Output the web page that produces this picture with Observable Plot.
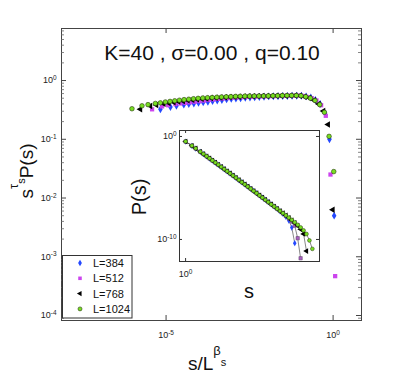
<!DOCTYPE html>
<html><head><meta charset="utf-8">
<script src="https://cdn.jsdelivr.net/npm/d3@7"></script>
<script src="https://cdn.jsdelivr.net/npm/@observablehq/plot@0.6"></script>
<style>
body{margin:0;background:#fff;}
#wrap{position:relative;width:399px;height:374px;font-family:"Liberation Sans",Arial,sans-serif;}
#wrap svg{font-family:"Liberation Sans",Arial,sans-serif;}
#inset{position:absolute;left:120px;top:125px;}
</style></head><body><div id="wrap"><div id="inset"></div></div>
<script>
// ---- data ----
const sizes = [384, 512, 768, 1024];
const tauS = 1.55;   // exponent tau_s
const betaS = 2.0;   // exponent beta_s
// log10 of s-bin centres
const logS = [0, 0.30, 0.48, 0.70, 0.85, 1.00, 1.14, 1.28, 1.42, 1.56, 1.70, 1.84, 1.98, 2.12, 2.26, 2.40, 2.54, 2.68, 2.82, 2.96, 3.10, 3.24, 3.38, 3.52, 3.66, 3.80, 3.94, 4.08, 4.22, 4.36, 4.50, 4.64, 4.78, 4.92, 5.06, 5.20, 5.34, 5.48, 5.62, 5.76, 5.90, 6.04];
// log10 of s^tau P(s) per system size
const logF384 = [-0.49,-0.45,-0.43,-0.41,-0.40,-0.39,-0.38,-0.37,-0.36,-0.35,-0.34,-0.33,-0.32,-0.31,-0.305,-0.30,-0.295,-0.29,-0.285,-0.28,-0.275,-0.27,-0.268,-0.266,-0.264,-0.262,-0.26,-0.258,-0.26,-0.27,-0.29,-0.33,-0.40,-0.55,-1.0,-2.3];
const logF512 = [-0.49,-0.44,-0.42,-0.40,-0.39,-0.38,-0.37,-0.36,-0.35,-0.34,-0.33,-0.32,-0.312,-0.305,-0.298,-0.292,-0.287,-0.283,-0.279,-0.276,-0.273,-0.27,-0.268,-0.266,-0.264,-0.262,-0.26,-0.258,-0.257,-0.256,-0.262,-0.28,-0.30,-0.34,-0.42,-0.6,-1.6,-3.33];
const logF768 = [-0.49,-0.435,-0.415,-0.395,-0.383,-0.37,-0.358,-0.347,-0.337,-0.327,-0.319,-0.311,-0.304,-0.298,-0.293,-0.289,-0.285,-0.281,-0.278,-0.275,-0.272,-0.269,-0.267,-0.265,-0.263,-0.262,-0.261,-0.26,-0.259,-0.258,-0.257,-0.256,-0.258,-0.275,-0.295,-0.335,-0.40,-0.52,-0.75,-2.2];
const logF1024 = [-0.48,-0.43,-0.41,-0.39,-0.38,-0.365,-0.355,-0.345,-0.335,-0.325,-0.318,-0.31,-0.303,-0.297,-0.292,-0.288,-0.284,-0.28,-0.277,-0.274,-0.27,-0.268,-0.266,-0.265,-0.264,-0.263,-0.262,-0.261,-0.26,-0.258,-0.256,-0.255,-0.254,-0.254,-0.258,-0.275,-0.30,-0.34,-0.41,-0.54,-0.95,-1.55];
const seriesF = [logF384, logF512, logF768, logF1024];
const legendLabels = ["L=384", "L=512", "L=768", "L=1024"];
const mainXTicks = [1e-5, 1];
const mainYTicks = [1e-4, 1e-3, 1e-2, 1e-1, 1];
const insetXTicks = [1];
const insetYTicks = [1e-10, 1];
const titleText = "K=40 , σ=0.00 , q=0.10";

// styles per series
const styles = [
  {symbol: "diamond", fill: "#2448ff", stroke: "none", rotate: 0},
  {symbol: "square", fill: "#cc44ee", stroke: "none", rotate: 0},
  {symbol: "triangle", fill: "#000000", stroke: "none", rotate: -90},
  {symbol: "circle", fill: "#77dd22", stroke: "#2b3a12", rotate: 0}
];
const insetFill = ["#2448ff", "#a860c0", "#000000", "#77dd22"];

// table
const rows = sizes.map((L, k) => seriesF[k].map((lf, i) => {
  const s = 10 ** logS[i];
  const F = 10 ** lf;
  return {L, k, s, F, x: s / L ** betaS, P: F * s ** (-tauS)};
}));

const fmt = v => "10^" + Math.round(Math.log10(v));

// minor ticks for main y
const mainYMinor = [];
for (let e = -5; e <= 0; e++) for (let m = 2; m <= 9; m++) {
  const v = m * 10 ** e;
  if (v > 10 ** -4.085 && v < 10 ** 0.886) mainYMinor.push(v);
}

const W = 300, H = 292;
const mainMarks = [Plot.frame({stroke: "#444", strokeWidth: 1})];
mainMarks.push(Plot.tickY(mainYTicks, {y: d => d, insetRight: W - 5, stroke: "#444"}));
mainMarks.push(Plot.tickY(mainYTicks, {y: d => d, insetLeft: W - 5, stroke: "#444"}));
mainMarks.push(Plot.tickY(mainYMinor, {y: d => d, insetRight: W - 3, stroke: "#666", strokeWidth: 0.8}));
mainMarks.push(Plot.tickY(mainYMinor, {y: d => d, insetLeft: W - 3, stroke: "#666", strokeWidth: 0.8}));
mainMarks.push(Plot.tickX(mainXTicks, {x: d => d, insetBottom: H - 5, stroke: "#444"}));
mainMarks.push(Plot.tickX(mainXTicks, {x: d => d, insetTop: H - 5, stroke: "#444"}));
mainMarks.push(Plot.axisX({ticks: mainXTicks, tickSize: 0, tickPadding: 11, tickFormat: fmt, label: null, fontSize: 9, fill: "#222"}));
mainMarks.push(Plot.axisY({ticks: mainYTicks, tickSize: 0, tickPadding: 5, tickFormat: fmt, label: null, fontSize: 9, fill: "#222"}));
rows.forEach((r, k) => {
  const st = styles[k];
  mainMarks.push(Plot.dot(r, {x: "x", y: "F", symbol: st.symbol, r: k === 3 ? 2.3 : 2.4, fill: st.fill,
    stroke: st.stroke, strokeWidth: 0.6, rotate: st.rotate}));
});

const main = Plot.plot({
  width: 399, height: 374,
  marginLeft: 61, marginRight: 38, marginTop: 28, marginBottom: 54,
  style: {background: "transparent", overflow: "visible"},
  x: {type: "log", domain: [10 ** -8.13, 10 ** 0.85]},
  y: {type: "log", domain: [10 ** -4.085, 10 ** 0.886]},
  marks: mainMarks
});
document.getElementById("wrap").insertBefore(main, document.getElementById("inset"));

// inset
const iW = 140, iH = 131;
const insetMarks = [Plot.frame({fill: "white", stroke: "none"})];
rows.forEach((r, k) => {
  insetMarks.push(Plot.line(r, {x: "s", y: "P", stroke: "#555", strokeWidth: 0.7}));
});
rows.forEach((r, k) => {
  const st = styles[k];
  insetMarks.push(Plot.dot(r, {x: "s", y: "P", symbol: st.symbol, r: k === 2 ? 2.1 : 1.9, fill: insetFill[k],
    stroke: k === 3 ? "#2b3a12" : (k === 1 ? "#5a3a66" : "none"), strokeWidth: 0.5, rotate: st.rotate}));
});
insetMarks.push(Plot.tickY(insetYTicks, {y: d => d, insetRight: iW - 3, stroke: "#333"}));
insetMarks.push(Plot.tickY(insetYTicks, {y: d => d, insetLeft: iW - 3, stroke: "#333"}));
insetMarks.push(Plot.tickX(insetXTicks, {x: d => d, insetTop: iH - 3, stroke: "#333"}));
insetMarks.push(Plot.tickX(insetXTicks, {x: d => d, insetBottom: iH - 3, stroke: "#333"}));
insetMarks.push(Plot.axisX({ticks: insetXTicks, tickSize: 0, tickPadding: 9, tickFormat: fmt, label: null, fontSize: 9, fill: "#222"}));
insetMarks.push(Plot.axisY({ticks: insetYTicks, tickSize: 0, tickPadding: 3, tickFormat: fmt, label: null, fontSize: 9, fill: "#222"}));
insetMarks.push(Plot.frame({stroke: "#333", strokeWidth: 1}));

const inset = Plot.plot({
  width: 209, height: 175,
  marginLeft: 59, marginRight: 10, marginTop: 5, marginBottom: 39,
  style: {background: "transparent", overflow: "visible"},
  x: {type: "log", domain: [10 ** -0.29, 10 ** 6.38]},
  y: {type: "log", domain: [10 ** -12.14, 10 ** 0.58]},
  marks: insetMarks
});
document.getElementById("inset").appendChild(inset);

// superscripts on tick labels
function supify(svg) {
  d3.select(svg).selectAll("text").each(function () {
    const t = this.textContent;
    const m = /^10\^(.+)$/.exec(t);
    if (m) {
      const el = d3.select(this);
      el.text(null);
      el.append("tspan").text("10");
      el.append("tspan").attr("dy", "-0.5em").attr("font-size", "0.72em").text(m[1]);
    }
  });
}
supify(main); supify(inset);

// titles and labels
const svg = d3.select(main);
svg.append("text").attr("x", 212).attr("y", 60).attr("text-anchor", "middle")
  .attr("font-size", 21).attr("fill", "#111").text(titleText);

const xl = svg.append("text").attr("x", 188).attr("y", 370).attr("text-anchor", "start")
  .attr("font-size", 19).attr("fill", "#111");
xl.append("tspan").text("s/L");
xl.append("tspan").attr("font-size", 13).attr("dy", -15).text("β");
xl.append("tspan").attr("font-size", 11).attr("dy", 11).text("s");

const yl = svg.append("text").attr("transform", "translate(33,171) rotate(-90)")
  .attr("text-anchor", "middle").attr("font-size", 19).attr("fill", "#111");
yl.append("tspan").text("s");
yl.append("tspan").attr("font-size", 13).attr("dy", -15).text("τ");
yl.append("tspan").attr("font-size", 11).attr("dy", 7).text("s");
yl.append("tspan").attr("dy", 8).text("P(s)");

// inset labels
const isvg = d3.select(inset);
isvg.append("text").attr("transform", "translate(26,72) rotate(-90)").attr("text-anchor", "middle")
  .attr("font-size", 20).attr("fill", "#111").text("P(s)");
isvg.append("text").attr("x", 129).attr("y", 173).attr("text-anchor", "middle")
  .attr("font-size", 20).attr("fill", "#111").text("s");

// legend
const lg = svg.append("g");
lg.append("rect").attr("x", 62.5).attr("y", 255.5).attr("width", 69.5).attr("height", 62.5)
  .attr("fill", "white").attr("stroke", "#333").attr("stroke-width", 1);
const symMap = {diamond: d3.symbolDiamond, square: d3.symbolSquare, triangle: d3.symbolTriangle, circle: d3.symbolCircle};
legendLabels.forEach((lab, k) => {
  const y = 263 + k * 15.3;
  const st = styles[k];
  lg.append("path").attr("d", d3.symbol(symMap[st.symbol], Math.PI * 2.0 * 2.0)())
    .attr("transform", `translate(80,${y}) rotate(${st.rotate})`)
    .attr("fill", st.fill).attr("stroke", st.stroke === "none" ? null : st.stroke).attr("stroke-width", 0.6);
  lg.append("text").attr("x", 93).attr("y", y + 4).attr("text-anchor", "start")
    .attr("font-size", 11).attr("fill", "#111").text(lab);
});
</script>
</body></html>
